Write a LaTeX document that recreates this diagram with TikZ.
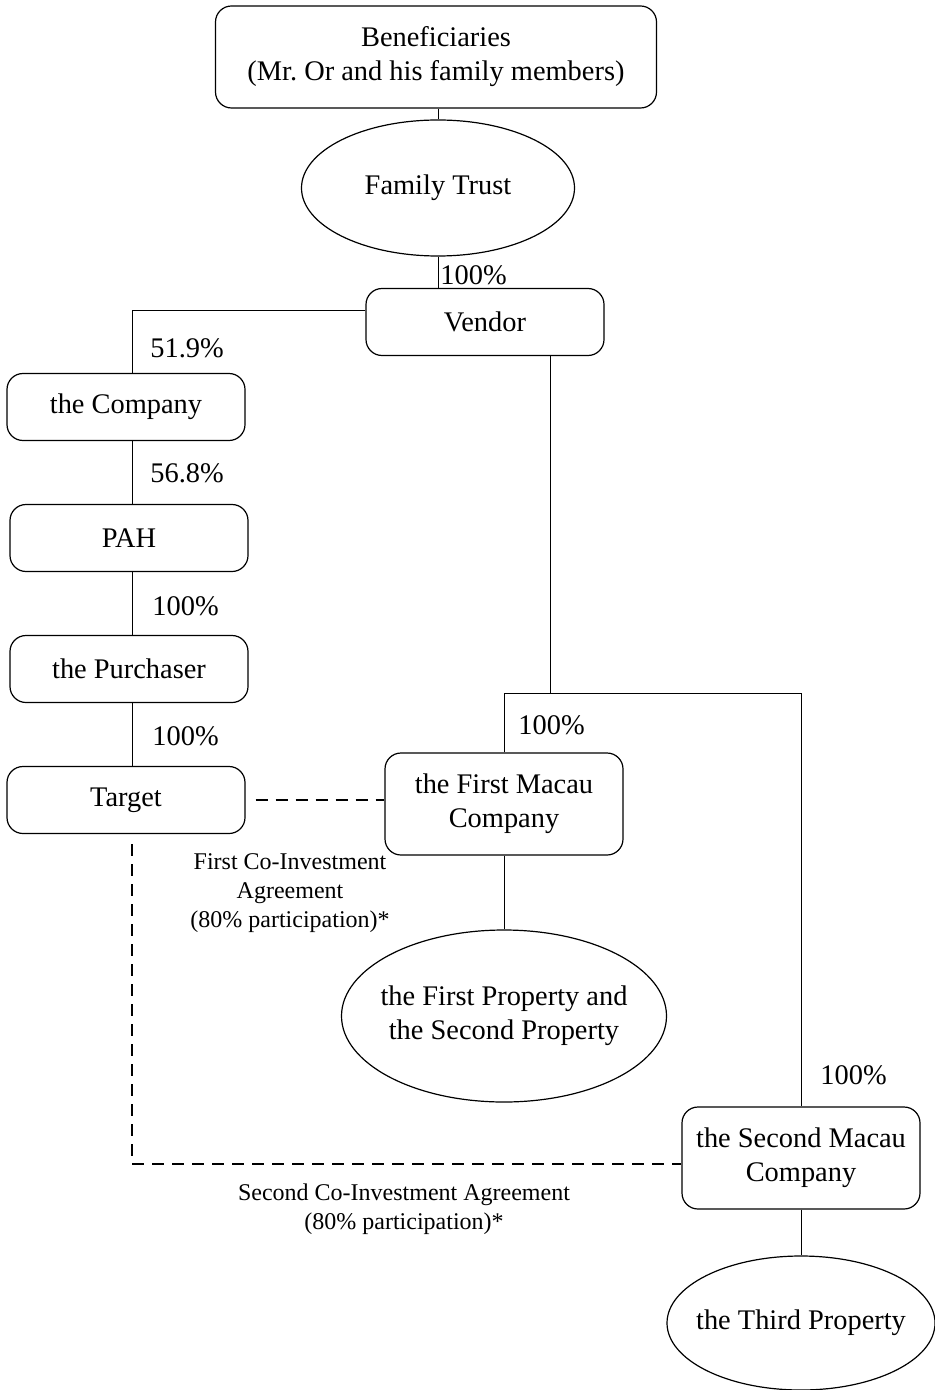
\documentclass[tikz,border=0pt]{standalone}
\usepackage{fontspec}
\setmainfont{Liberation Serif}
\usepackage{tikz}
\usetikzlibrary{positioning,shapes.geometric}

\tikzset{
  entity/.style={draw, line width=0.6pt, rounded corners=8pt, align=center, inner sep=2pt,
    minimum width=119pt, minimum height=33.5pt, font=\fontsize{14.2}{17}\selectfont},
  asset/.style={draw, line width=0.6pt, ellipse, align=center, inner sep=-6pt,
    font=\fontsize{14.2}{17}\selectfont},
  share/.style={inner sep=1pt, anchor=west, font=\fontsize{14.2}{17}\selectfont},
  deal/.style={align=center, inner sep=1pt, font=\fontsize{12}{14.5}\selectfont},
  link/.style={line width=0.5pt},
  coinvest/.style={line width=0.6pt, dash pattern=on 6pt off 4pt}
}

\begin{document}
\begin{tikzpicture}[x=0.5pt, y=-0.5pt]
  \useasboundingbox (0,0) rectangle (934,1390);

  % Top of the structure
  \node[entity, minimum width=220.5pt, minimum height=51pt] (ben) at (436,57)
    {Beneficiaries\\(Mr.\ Or and his family members)};
  \node[asset, minimum width=136.5pt, minimum height=68pt] (trust) at (438,188) {Family Trust};
  \node[entity] (vendor) at (485,322) {Vendor};

  % Listed chain (left)
  \node[entity] (company) at (126,407) {the Company};
  \node[entity] (pah) at (129,538) {PAH};
  \node[entity] (purchaser) at (129,669) {the Purchaser};
  \node[entity] (target) at (126,800) {Target};

  % Macau companies and properties
  \node[entity, minimum height=51pt] (macauA) at (504,804) {the First Macau\\Company};
  \node[asset, minimum width=162.5pt, minimum height=86pt] (propA) at (504,1016)
    {the First Property and\\the Second Property};
  \node[entity, minimum height=51pt] (macauB) at (801,1158) {the Second Macau\\Company};
  \node[asset, minimum width=134pt, minimum height=67pt] (propB) at (801,1323) {the Third Property};

  % Tap points of the connectors
  \coordinate (vL) at (132,311);
  \coordinate (vR) at (550,693);
  \coordinate (dL) at (132,1164);

  \draw[link] (ben.south -| trust.north) -- (trust.north);
  \draw[link] (trust.south) -- (vendor.north -| trust.south);
  \draw[link] (vendor.west |- vL) -- (vL) -- (company.north -| vL);
  \draw[link] (company.south -| vL) -- (pah.north -| vL);
  \draw[link] (pah.south -| vL) -- (purchaser.north -| vL);
  \draw[link] (purchaser.south -| vL) -- (target.north -| vL);
  \draw[link] (vendor.south -| vR) -- (vR);
  \draw[link] (macauA.north) |- (macauB.north |- vR) -- (macauB.north);
  \draw[link] (macauA.south) -- (propA.north);
  \draw[link] (macauB.south) -- (propB.north);

  % Co-investment agreements
  \draw[coinvest, shorten <=5pt] (target.east) -- (macauA.west |- target.east);
  \draw[coinvest, shorten <=5pt] (target.south -| dL) -- (dL) -- (macauB.west |- dL);

  % Shareholding labels
  \node[share] (pTrust) at (438,275) {100\%};
  \node[share] (pCompany) at (148,348) {51.9\%};
  \node[share] (pPah) at (148,473) {56.8\%};
  \node[share] (pPurchaser) at (150,606) {100\%};
  \node[share] (pTarget) at (150,736) {100\%};
  \node[share] (pMacauA) at (516,725) {100\%};
  \node[share] (pMacauB) at (818,1075) {100\%};

  \node[deal] (dealA) at (290,893) {First Co-Investment\\Agreement\\(80\% participation)*};
  \node[deal] (dealB) at (404,1209) {Second Co-Investment Agreement\\(80\% participation)*};
\end{tikzpicture}
\end{document}
